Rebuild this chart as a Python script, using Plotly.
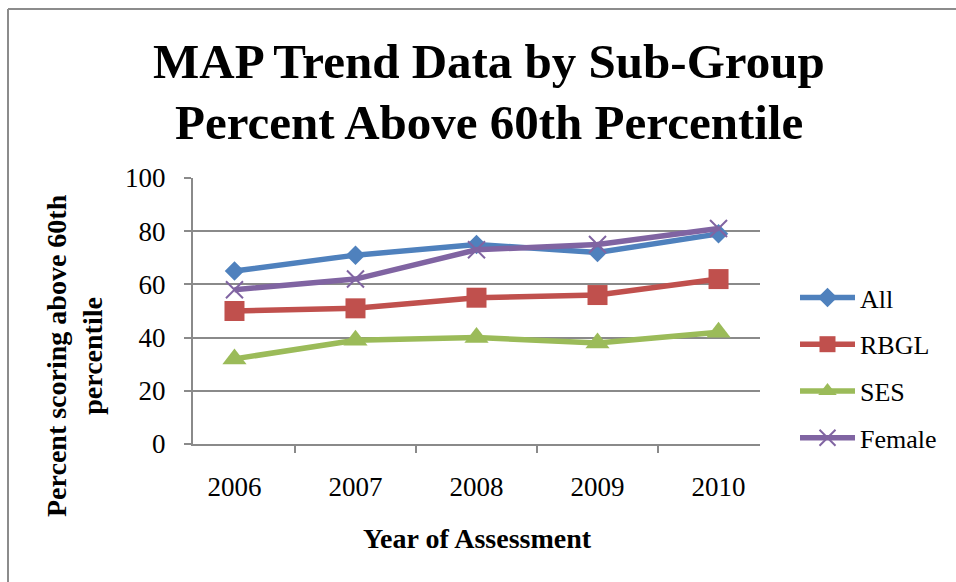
import plotly.graph_objects as go

years = ["2006", "2007", "2008", "2009", "2010"]
all_vals = [65, 71, 75, 72, 79]
rbgl_vals = [50, 51, 55, 56, 62]
ses_vals = [32, 39, 40, 38, 42]
female_vals = [58, 62, 73, 75, 81]

series_names = ["All", "RBGL", "SES", "Female"]
series_vals = [all_vals, rbgl_vals, ses_vals, female_vals]
colors = ["#4F81BD", "#C0504D", "#9BBB59", "#8064A2"]
symbols = ["diamond", "square", "triangle-up", "x-thin"]
sizes = [15, 20, 21, 17]

title_lines = ["MAP Trend Data by Sub-Group", "Percent Above 60th Percentile"]
y_title_lines = ["Percent scoring above 60th", "percentile"]
x_title = "Year of Assessment"

FONT = "Liberation Serif"

fig = go.Figure()
for i, (name, vals) in enumerate(zip(series_names, series_vals)):
    marker = dict(symbol=symbols[i], size=sizes[i], color=colors[i])
    if symbols[i] == "x-thin":
        marker["line"] = dict(width=2, color=colors[i])
    fig.add_trace(go.Scatter(
        x=years, y=vals, name=name, mode="lines+markers",
        line=dict(color=colors[i], width=5.5),
        marker=marker, legendgroup=name,
    ))

W, H = 956, 582
L, R, T, B = 193, 196, 178, 138
pw, ph = W - L - R, H - T - B

def px(x):
    return (x - L) / pw

def py(y):
    return 1 - (y - T) / ph

fig.update_layout(
    width=W, height=H,
    margin=dict(l=L, r=R, t=T, b=B),
    paper_bgcolor="white", plot_bgcolor="white",
    font=dict(family=FONT, color="black", size=26),
    showlegend=True,
    legend=dict(x=px(795), y=py(274), xanchor="left", yanchor="top",
                font=dict(size=26, family=FONT), traceorder="grouped",
                tracegroupgap=10, itemwidth=55, bgcolor="rgba(0,0,0,0)"),
    xaxis=dict(type="category", showgrid=False, showline=True,
               linecolor="#8A8A8A", linewidth=2, ticks="outside",
               tickson="boundaries", ticklen=7, tickcolor="#8A8A8A",
               tickwidth=2, tickfont=dict(size=27, family=FONT),
               ticklabelstandoff=18),
    yaxis=dict(range=[0, 100], dtick=20, showgrid=True, gridcolor="#8A8A8A",
               gridwidth=2, showline=True, linecolor="#8A8A8A", linewidth=2,
               ticks="outside", ticklen=7, tickcolor="#8A8A8A", tickwidth=2,
               tickfont=dict(size=27, family=FONT), zeroline=False,
               ticklabelstandoff=13),
)

for line, yc in zip(title_lines, [61, 123]):
    fig.add_annotation(
        text="<b>" + line + "</b>",
        xref="paper", yref="paper", x=px(489), y=py(yc), xanchor="center",
        yanchor="middle", showarrow=False,
        font=dict(size=49, family=FONT, color="black"),
    )
fig.add_annotation(
    text="<b>" + y_title_lines[0] + "</b><br><b>" + y_title_lines[1] + "</b>",
    xref="paper", yref="paper", x=px(74), y=py(356), xanchor="center",
    yanchor="middle", showarrow=False, textangle=-90,
    font=dict(size=28, family=FONT, color="black"),
)
fig.add_annotation(
    text="<b>" + x_title + "</b>",
    xref="paper", yref="paper", x=px(477), y=py(538), xanchor="center",
    yanchor="middle", showarrow=False,
    font=dict(size=28, family=FONT, color="black"),
)

# chart border (top and left edges visible)
fig.add_shape(type="line", xref="paper", yref="paper",
              x0=px(8), x1=px(W + 5), y0=py(9), y1=py(9),
              line=dict(color="#8C8C8C", width=2))
fig.add_shape(type="line", xref="paper", yref="paper",
              x0=px(8), x1=px(8), y0=py(9), y1=py(H + 5),
              line=dict(color="#8C8C8C", width=2))

fig.write_html("out.html")
